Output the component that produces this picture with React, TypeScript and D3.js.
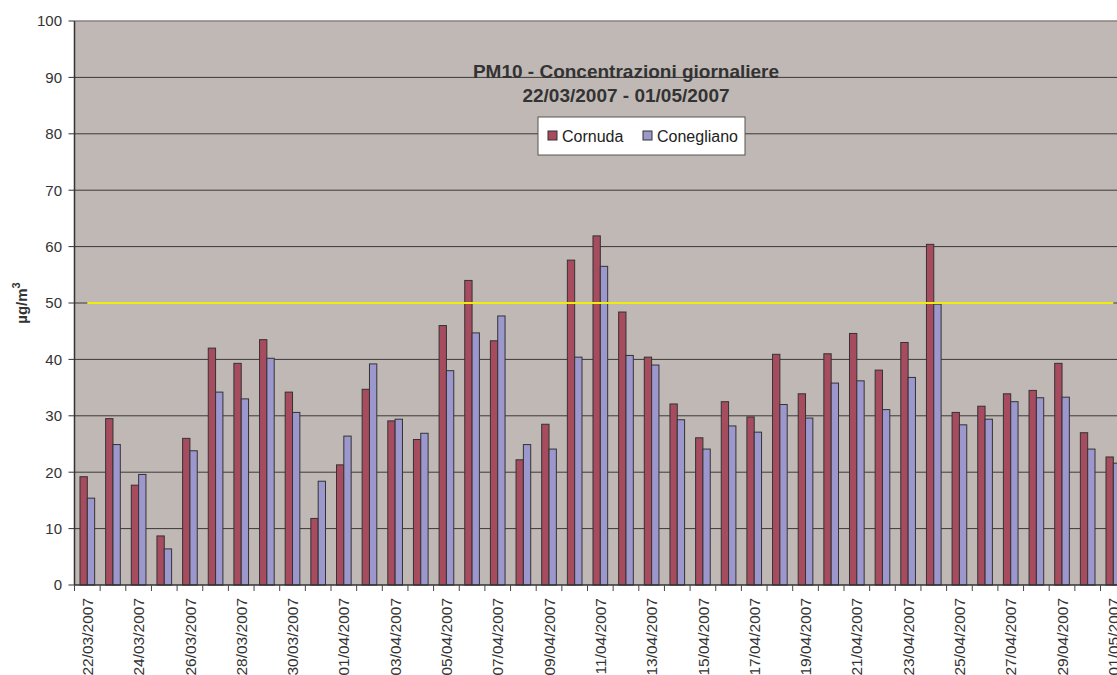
import React, { useEffect, useRef } from 'react';
import * as d3 from 'd3';

// daily dates, 22/03/2007 - 01/05/2007
const dates = [
  '22/03/2007', '23/03/2007', '24/03/2007', '25/03/2007', '26/03/2007', '27/03/2007', '28/03/2007',
  '29/03/2007', '30/03/2007', '31/03/2007', '01/04/2007', '02/04/2007', '03/04/2007', '04/04/2007',
  '05/04/2007', '06/04/2007', '07/04/2007', '08/04/2007', '09/04/2007', '10/04/2007', '11/04/2007',
  '12/04/2007', '13/04/2007', '14/04/2007', '15/04/2007', '16/04/2007', '17/04/2007', '18/04/2007',
  '19/04/2007', '20/04/2007', '21/04/2007', '22/04/2007', '23/04/2007', '24/04/2007', '25/04/2007',
  '26/04/2007', '27/04/2007', '28/04/2007', '29/04/2007', '30/04/2007', '01/05/2007',
];

const cornuda = [
  19.2, 29.5, 17.7, 8.7, 26.0, 42.0, 39.3, 43.5, 34.2, 11.8, 21.3, 34.7, 29.1, 25.8,
  46.0, 54.0, 43.3, 22.2, 28.5, 57.6, 61.9, 48.4, 40.4, 32.1, 26.1, 32.5, 29.8, 40.9,
  33.9, 41.0, 44.6, 38.1, 43.0, 60.4, 30.6, 31.7, 33.9, 34.5, 39.3, 27.0, 22.7,
];

const conegliano = [
  15.4, 24.9, 19.6, 6.4, 23.8, 34.2, 33.0, 40.2, 30.6, 18.4, 26.4, 39.2, 29.4, 26.9,
  38.0, 44.7, 47.7, 24.9, 24.1, 40.4, 56.5, 40.7, 39.0, 29.3, 24.1, 28.2, 27.1, 32.0,
  29.6, 35.8, 36.2, 31.1, 36.8, 49.8, 28.4, 29.4, 32.5, 33.2, 33.3, 24.1, 21.6,
];

const limitValue = 50;
const yTicks = [0, 10, 20, 30, 40, 50, 60, 70, 80, 90, 100];
const seriesNames = ['Cornuda', 'Conegliano'];
const seriesColors = ['#A64C5E', '#9C97CD'];

const W = 1117, H = 675;
const FONT = '"Liberation Sans", Arial, sans-serif';

export default function App() {
  const ref = useRef(null);

  useEffect(() => {
    const svg = d3.select(ref.current);
    svg.selectAll('*').remove();

    const left = 74.5, top = 21, bottom = 585;
    const right = left + 25.65 * dates.length;

    const x = d3.scaleBand().domain(dates).range([left, right]).padding(0);
    const xs = d3.scaleBand().domain(seriesNames).range([0, x.bandwidth()])
      .paddingInner(0).paddingOuter(0.75);
    const y = d3.scaleLinear().domain([0, 100]).range([bottom, top]);

    // plot background
    svg.append('rect')
      .attr('x', left).attr('y', top)
      .attr('width', right - left).attr('height', bottom - top)
      .attr('fill', '#C0B8B5');

    // gridlines
    svg.append('g')
      .selectAll('line')
      .data(yTicks.filter(t => t > 0 && t < 100))
      .join('line')
      .attr('x1', left).attr('x2', right)
      .attr('y1', d => y(d)).attr('y2', d => y(d))
      .attr('stroke', '#3a3a3a').attr('stroke-width', 1);

    // top border
    svg.append('line')
      .attr('x1', left).attr('x2', right)
      .attr('y1', top).attr('y2', top)
      .attr('stroke', '#8a8080').attr('stroke-width', 1.5);

    // bars
    const data = dates.map((d, i) => ({ date: d, values: [cornuda[i], conegliano[i]] }));
    const groups = svg.append('g')
      .selectAll('g')
      .data(data)
      .join('g')
      .attr('transform', d => `translate(${x(d.date)},0)`);

    groups.selectAll('rect')
      .data(d => d.values.map((v, k) => ({ name: seriesNames[k], v, k })))
      .join('rect')
      .attr('x', d => xs(d.name))
      .attr('y', d => y(d.v))
      .attr('width', xs.bandwidth())
      .attr('height', d => y(0) - y(d.v))
      .attr('fill', d => seriesColors[d.k])
      .attr('stroke', '#333')
      .attr('stroke-width', 1);

    // limit line
    svg.append('path')
      .datum(dates)
      .attr('fill', 'none')
      .attr('stroke', '#F0EC10')
      .attr('stroke-width', 2)
      .attr('d', d3.line()
        .x(d => x(d) + x.bandwidth() / 2)
        .y(() => y(limitValue)));

    // y axis
    svg.append('line')
      .attr('x1', left).attr('x2', left)
      .attr('y1', top).attr('y2', bottom)
      .attr('stroke', '#333').attr('stroke-width', 1.5);

    const yAxis = svg.append('g');
    yAxis.selectAll('line')
      .data(yTicks)
      .join('line')
      .attr('x1', left - 6).attr('x2', left)
      .attr('y1', d => y(d)).attr('y2', d => y(d))
      .attr('stroke', '#333');
    yAxis.selectAll('text')
      .data(yTicks)
      .join('text')
      .attr('x', 62)
      .attr('y', d => y(d))
      .attr('dy', '0.36em')
      .attr('text-anchor', 'end')
      .attr('font-family', FONT)
      .attr('font-size', 15)
      .attr('fill', '#333')
      .text(d => d);

    // x axis
    svg.append('line')
      .attr('x1', left).attr('x2', right)
      .attr('y1', bottom).attr('y2', bottom)
      .attr('stroke', '#333').attr('stroke-width', 1.5);

    svg.append('g')
      .selectAll('line')
      .data(dates)
      .join('line')
      .attr('x1', d => x(d)).attr('x2', d => x(d))
      .attr('y1', bottom).attr('y2', bottom + 6)
      .attr('stroke', '#444');

    svg.append('g')
      .selectAll('text')
      .data(dates.filter((d, i) => i % 2 === 0))
      .join('text')
      .attr('transform', d => `translate(${x(d) + x.bandwidth() / 2},598) rotate(-90)`)
      .attr('dy', '0.36em')
      .attr('text-anchor', 'end')
      .attr('font-family', FONT)
      .attr('font-size', 15.5)
      .attr('fill', '#333')
      .text(d => d);

    // y label
    const yl = svg.append('text')
      .attr('transform', 'translate(27,303) rotate(-90)')
      .attr('text-anchor', 'middle')
      .attr('font-family', FONT)
      .attr('font-size', 15)
      .attr('font-weight', 'bold')
      .attr('fill', '#333');
    yl.append('tspan').text('µg/m');
    yl.append('tspan').attr('font-size', 11).attr('dy', '-0.6em').text('3');

    // title
    const tx = 626;
    svg.append('text')
      .attr('x', tx).attr('y', 78)
      .attr('text-anchor', 'middle')
      .attr('font-family', FONT).attr('font-size', 19).attr('font-weight', 'bold')
      .attr('fill', '#333')
      .text('PM10 - Concentrazioni giornaliere');
    svg.append('text')
      .attr('x', tx).attr('y', 102)
      .attr('text-anchor', 'middle')
      .attr('font-family', FONT).attr('font-size', 19).attr('font-weight', 'bold')
      .attr('fill', '#333')
      .text('22/03/2007 - 01/05/2007');

    // legend
    const lg = svg.append('g');
    lg.append('rect')
      .attr('x', 538).attr('y', 117).attr('width', 207).attr('height', 38)
      .attr('fill', 'white').attr('stroke', '#555');
    const legendX = [548, 643];
    seriesNames.forEach((name, k) => {
      lg.append('rect')
        .attr('x', legendX[k]).attr('y', 131).attr('width', 9).attr('height', 9)
        .attr('fill', seriesColors[k]).attr('stroke', '#333');
      lg.append('text')
        .attr('x', legendX[k] + 14).attr('y', 141.5)
        .attr('font-family', FONT).attr('font-size', 16)
        .attr('fill', '#222')
        .text(name);
    });
  }, []);

  return (
    <svg ref={ref} width={W} height={H}
      style={{ position: 'absolute', left: 0, top: 0, background: 'white' }} />
  );
}
